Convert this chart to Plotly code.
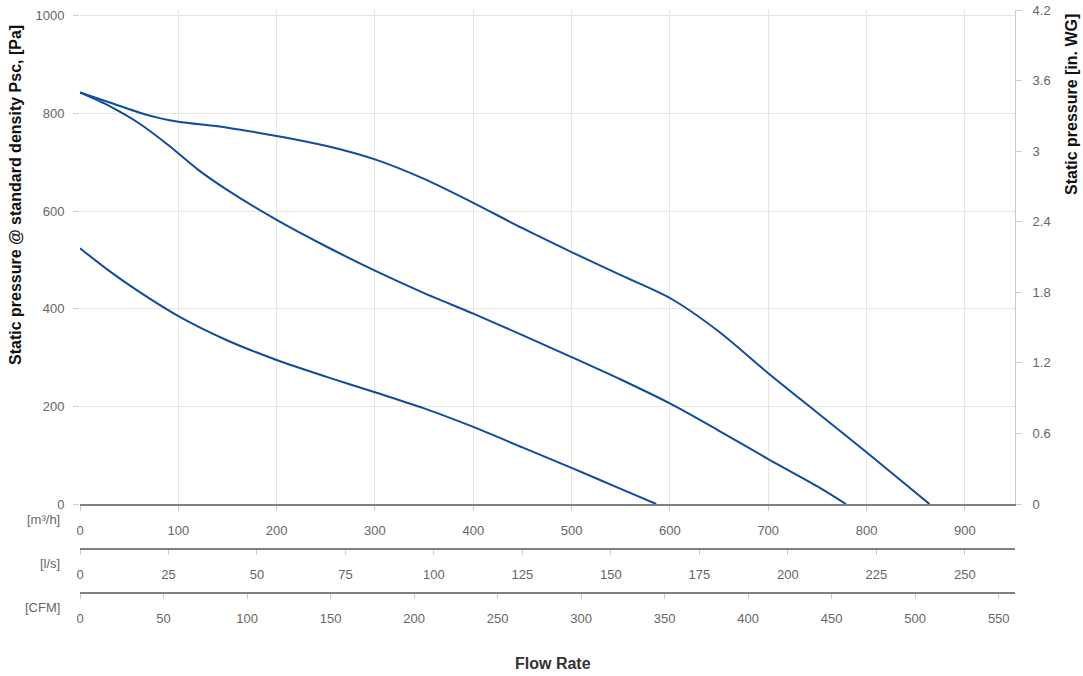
import plotly.graph_objects as go

# fan curves, flow in m3/h, pressure in Pa
flow_a = [0, 31, 65, 82, 100, 150, 200, 250, 300, 350, 400, 450, 500, 550, 600, 650, 700, 750, 800, 864]
pres_a = [843, 822, 799, 790, 783, 771, 754, 734, 706, 666, 617, 565, 516, 469, 422, 353, 268, 187, 106, 0]

flow_b = [0, 30, 60, 90, 120, 150, 200, 250, 300, 350, 400, 450, 500, 550, 600, 650, 700, 750, 779]
pres_b = [843, 815, 780, 735, 685, 643, 582, 528, 478, 432, 390, 346, 301, 255, 206, 150, 92, 36, 0]

flow_c = [0, 30, 60, 100, 150, 200, 250, 300, 350, 400, 450, 500, 550, 586]
pres_c = [524, 477, 435, 385, 335, 295, 261, 229, 196, 158, 116, 74, 31, 0]

pa_ticks = [0, 200, 400, 600, 800, 1000]
wg_ticks = [0, 0.6, 1.2, 1.8, 2.4, 3, 3.6, 4.2]
wg_labels = ["0", "0.6", "1.2", "1.8", "2.4", "3", "3.6", "4.2"]

M3H_MAX = 951
LS_PER_M3H = 1 / 3.6
CFM_PER_M3H = 1 / 1.69901
PA_PER_INWG = 249.089

BLUE = "#0f4c9e"
GRID = "#e6e6e6"
TICK = "#666666"
FONT = "Arial, Liberation Sans, sans-serif"

fig = go.Figure()
for fx, py in [(flow_a, pres_a), (flow_b, pres_b), (flow_c, pres_c)]:
    fig.add_trace(go.Scatter(x=fx, y=py, mode="lines",
                             line=dict(color=BLUE, width=2, shape="spline", smoothing=0.8),
                             showlegend=False, hoverinfo="skip"))

# invisible copies so the secondary axes get drawn
fig.add_trace(go.Scatter(x=flow_a, y=[p / PA_PER_INWG for p in pres_a], yaxis="y2",
                         mode="lines", line=dict(color="rgba(0,0,0,0)"), showlegend=False, hoverinfo="skip"))
fig.add_trace(go.Scatter(x=[f * LS_PER_M3H for f in flow_a], y=pres_a, xaxis="x2",
                         mode="lines", line=dict(color="rgba(0,0,0,0)"), showlegend=False, hoverinfo="skip"))
fig.add_trace(go.Scatter(x=[f * CFM_PER_M3H for f in flow_a], y=pres_a, xaxis="x3",
                         mode="lines", line=dict(color="rgba(0,0,0,0)"), showlegend=False, hoverinfo="skip"))

W, H = 1083, 676
L, R, T, B = 80, 68, 10, 10
pw, ph = W - L - R, H - T - B


def px(x):
    return (x - L) / pw


def py_(y):
    return (H - B - y) / ph


tickfont = dict(family=FONT, size=13, color=TICK)
common_x = dict(ticks="outside", ticklen=5, tickcolor="#cccccc", tickfont=tickfont,
                showline=True, linecolor="#808080", linewidth=2, zeroline=False,
                ticklabelstandoff=8, automargin=False)

fig.update_layout(
    width=W, height=H,
    margin=dict(l=L, r=R, t=T, b=B, pad=0),
    plot_bgcolor="white", paper_bgcolor="white",
    font=dict(family=FONT),
    xaxis=dict(range=[0, M3H_MAX], dtick=100, showgrid=True, gridcolor=GRID, **common_x),
    xaxis2=dict(range=[0, M3H_MAX * LS_PER_M3H], dtick=25, overlaying="x", anchor="free",
                position=py_(549), showgrid=False, **common_x),
    xaxis3=dict(range=[0, M3H_MAX * CFM_PER_M3H], dtick=50, overlaying="x", anchor="free",
                position=py_(593), showgrid=False, **common_x),
    yaxis=dict(domain=[py_(504), 1], range=[0, 1012], tickvals=pa_ticks, showgrid=True,
               gridcolor=GRID, ticks="outside", ticklen=6, tickcolor="#cccccc",
               tickfont=tickfont, zeroline=False, showline=False, ticklabelstandoff=6,
               automargin=False),
    yaxis2=dict(overlaying="y", side="right", anchor="x", range=[0, 4.2],
                tickvals=wg_ticks, ticktext=wg_labels, showgrid=False, zeroline=False,
                showline=True, linecolor="#cccccc", linewidth=1, ticks="outside",
                ticklen=6, tickcolor="#cccccc", tickfont=tickfont, ticklabelstandoff=8,
                automargin=False),
)

ann = [
    dict(text="<b>Static pressure @ standard density Psc, [Pa]</b>", x=px(16), y=py_(195),
         textangle=-90, font=dict(size=16, color="#111111")),
    dict(text="<b>Static pressure [in. WG]</b>", x=px(1072), y=py_(105),
         textangle=-90, font=dict(size=16, color="#111111")),
    dict(text="<b>Flow Rate</b>", x=px(553), y=py_(663), font=dict(size=16, color="#333333")),
    dict(text="[m³/h]", x=px(62), y=py_(519), xanchor="right", font=dict(size=13, color=TICK)),
    dict(text="[l/s]", x=px(62), y=py_(563), xanchor="right", font=dict(size=13, color=TICK)),
    dict(text="[CFM]", x=px(62), y=py_(607), xanchor="right", font=dict(size=13, color=TICK)),
]
for a in ann:
    fig.add_annotation(xref="paper", yref="paper", showarrow=False, yanchor="middle",
                       **({"xanchor": "center"} | a))

fig.write_html("out.html", config={"displayModeBar": False},
               post_script="document.body.style.margin='0';")
